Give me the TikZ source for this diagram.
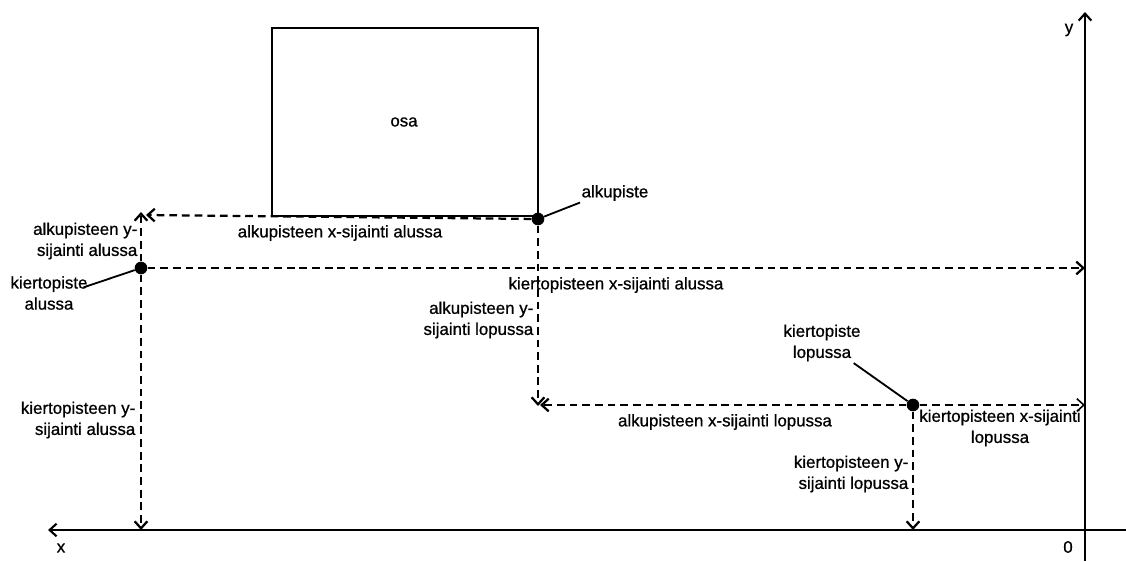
\documentclass[tikz,border=0pt]{standalone}
\usepackage{fontspec}
\setmainfont[FakeBold=0.8]{Liberation Sans}
\usetikzlibrary{
    positioning,
    arrows.meta
}

\tikzset{
    mitta/.style={line width=1.6pt, dash pattern=on 5.5pt off 3.5pt, -{Straight Barb[length=5pt,width=9pt]}},
    akseli/.style={line width=1.5pt, -{Straight Barb[length=5pt,width=9pt]}},
    piste/.style={circle, fill=black, inner sep=0pt, minimum size=9pt},
    selite/.style={font=\fontsize{12}{15}\selectfont, inner sep=1pt},
    osoitin/.style={line width=1.3pt}
}

\begin{document}
\begin{tikzpicture}[x=0.025cm, y=-0.025cm]
        \useasboundingbox (0,0) rectangle (1126,561);

        % Koordinaatisto
        \coordinate (xa) at (1126,530);
        \coordinate (xl) at (48,530);
        \coordinate (ya) at (1085,561);
        \coordinate (yl) at (1085,12);
        \draw[akseli] (xa) -- (xl);
        \draw[akseli] (ya) -- (yl);
        \node[selite] (xnimi) at (61,548) {x};
        \node[selite] (ynimi) at (1069,30) {y};
        \node[selite] (origo) at (1068,547) {0};

        % Osa
        \draw[line width=1.6pt] (272,28) rectangle (538,216);
        \node[selite] (osa) at (404,122) {osa};

        % Pisteet
        \node[piste] (alku) at (538,219) {};
        \node[piste] (kierto1) at (141,268) {};
        \node[piste] (kierto2) at (913,405) {};

        % Mittaviivat alussa
        \coordinate (alkuX1) at (146,215);
        \coordinate (alkuY1) at (141,212);
        \coordinate (kiertoX1) at (1085,268);
        \coordinate (kiertoY1) at (141,530);
        \draw[mitta] (alku) -- (alkuX1);
        \draw[mitta] (kierto1) -- (alkuY1);
        \draw[mitta] (kierto1) -- (kiertoX1);
        \draw[mitta] (kierto1) -- (kiertoY1);

        % Mittaviivat lopussa
        \coordinate (alkuY2) at (538,406);
        \coordinate (alkuX2) at (540,405);
        \coordinate (kiertoX2) at (1085,405);
        \coordinate (kiertoY2) at (913,530);
        \draw[mitta] (alku) -- (alkuY2);
        \draw[mitta] (kierto2) -- (alkuX2);
        \draw[mitta, line width=1.1pt] (kierto2) -- (kiertoX2);
        \draw[mitta] (kierto2) -- (kiertoY2);

        % Selitteet
        \node[selite, anchor=west] (alkusel) at (580,193) {alkupiste};
        \draw[osoitin] (alkusel.south west) -- (alku);
        \node[selite, align=center] (kierto1sel) at (49,293) {kiertopiste\\alussa};
        \draw[osoitin] ([xshift=-4pt,yshift=4pt]kierto1sel.east) -- (kierto1);
        \node[selite, align=center] (kierto2sel) at (822,343) {kiertopiste\\lopussa};
        \draw[osoitin] ([xshift=-6pt]kierto2sel.south east) -- (kierto2);

        \node[selite, align=right, anchor=east] (alkuY1sel) at (139,241) {alkupisteen y-\\sijainti alussa};
        \node[selite] (alkuX1sel) at (340,233) {alkupisteen x-sijainti alussa};
        \node[selite] (kiertoX1sel) at (616,285) {kiertopisteen x-sijainti alussa};
        \node[selite, align=right, anchor=east] (kiertoY1sel) at (137,420) {kiertopisteen y-\\sijainti alussa};

        \node[selite, align=right, anchor=east] (alkuY2sel) at (535,320) {alkupisteen y-\\sijainti lopussa};
        \node[selite] (alkuX2sel) at (725,422) {alkupisteen x-sijainti lopussa};
        \node[selite, align=center] (kiertoX2sel) at (1000,428) {kiertopisteen x-sijainti\\lopussa};
        \node[selite, align=right, anchor=east] (kiertoY2sel) at (910,474) {kiertopisteen y-\\sijainti lopussa};
    \end{tikzpicture}
\end{document}
